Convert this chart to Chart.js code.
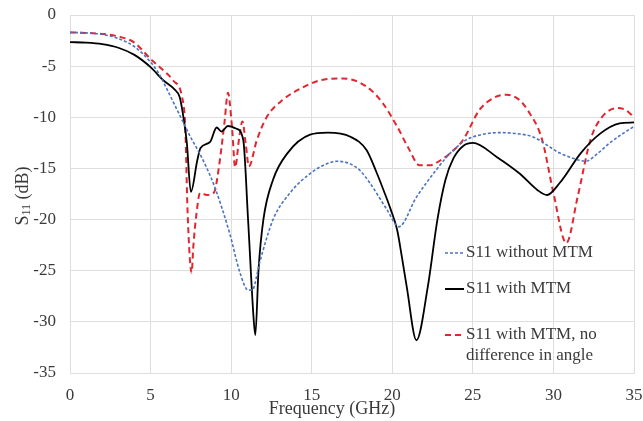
<!DOCTYPE html>
<html>
<head>
<meta charset="utf-8">
<script src="https://cdn.jsdelivr.net/npm/chart.js@4.4.1/dist/chart.umd.min.js"></script>
<style>
  html, body { margin: 0; padding: 0; background: #fff; }
  #wrap { width: 643px; height: 421px; position: relative; }
</style>
</head>
<body>
<div id="wrap"><canvas id="s11Chart"></canvas></div>
<script>
// S11 without MTM (blue dashed)
const blueFreq = [0, 1, 2, 3, 4, 5, 5.5, 6, 6.5, 7, 7.5, 8, 8.5, 9, 9.9, 10.55, 11.05, 11.3, 11.8, 12.6, 13.65, 14.9, 16, 16.6, 17.3, 18, 18.6, 19.7, 20.4, 21.5, 22.8, 23.6, 24.6, 25.5, 26.7, 27.7, 28.7, 30.4, 31.2, 32, 32.7, 33.5, 34.3, 35];
const blueS11 = [-1.7, -1.75, -1.9, -2.3, -3.1, -4.6, -5.7, -7.2, -8.8, -10.4, -12, -13.4, -15, -16.9, -21.3, -25.2, -26.9, -26.9, -24, -20, -17.4, -15.5, -14.5, -14.3, -14.5, -15.2, -16.4, -19.1, -20.7, -17.8, -15.0, -13.5, -12.2, -11.7, -11.5, -11.6, -11.9, -13.5, -14.0, -14.3, -13.6, -12.5, -11.6, -10.9];

// S11 with MTM (black solid)
const blackFreq = [0, 1, 2, 3, 4, 5, 5.8, 6.5, 6.8, 7.0, 7.25, 7.5, 7.9, 8.1, 8.7, 9.1, 9.4, 9.8, 10.3, 10.75, 11.05, 11.4, 11.5, 11.7, 12.0, 12.6, 13.5, 14.9, 16, 17.4, 18.4, 19.0, 19.5, 19.9, 20.3, 20.6, 20.9, 21.5, 22.2, 22.8, 23.3, 23.8, 24.4, 25, 26.5, 27.9, 29, 29.6, 30.4, 31.7, 32.9, 34.1, 35];
const blackS11 = [-2.65, -2.7, -2.85, -3.2, -3.9, -5.1, -6.4, -7.3, -8.0, -9.6, -12.5, -17.3, -14.2, -13.0, -12.4, -11.0, -11.4, -10.85, -11.1, -12.2, -20, -29.8, -31.3, -24.9, -20, -16.1, -13.5, -11.7, -11.5, -11.9, -13.2, -15.3, -17.3, -19.0, -21.0, -23.7, -26.6, -31.8, -26.6, -20, -16.1, -14.0, -12.8, -12.5, -13.9, -15.5, -17.1, -17.6, -16.4, -13.5, -11.6, -10.6, -10.5];

// S11 with MTM, no difference in angle (red dashed)
const redFreq = [0, 1, 2, 3, 4, 5, 5.5, 6, 6.4, 6.95, 7.15, 7.3, 7.55, 7.65, 7.85, 8.07, 8.5, 8.8, 9.0, 9.3, 9.6, 9.8, 10.05, 10.25, 10.5, 10.7, 10.9, 11.1, 11.6, 12.2, 13.2, 14.3, 15.5, 16.9, 18.4, 19.4, 20.3, 21.0, 21.7, 22.3, 23.0, 23.6, 24.4, 25.4, 26.3, 27.1, 27.8, 28.4, 29.3, 30, 30.8, 31.5, 32.3, 33, 34, 34.5, 35];
const redS11 = [-1.7, -1.75, -1.85, -2.1, -2.7, -4.3, -5.0, -5.7, -6.4, -8.0, -10.9, -19.4, -25.2, -22.7, -19.4, -17.4, -17.6, -17.5, -17.1, -14.2, -10.3, -7.6, -10.9, -14.9, -12, -10.4, -12.5, -14.8, -12.2, -10, -8.3, -7.2, -6.4, -6.2, -7.0, -8.6, -10.9, -13.0, -14.7, -14.7, -14.2, -13.5, -12.2, -9.3, -8.1, -7.8, -8.2, -9.3, -12.2, -17.4, -22.3, -17.8, -12.2, -10, -9.1, -9.3, -10];

const xTicks = [0, 5, 10, 15, 20, 25, 30, 35];
const yTicks = [0, -5, -10, -15, -20, -25, -30, -35];

const legendLabels = [['S11 without MTM'], ['S11 with MTM'], ['S11 with MTM, no', 'difference in angle']];

const BLUE = '#4a74bf';
const RED = '#e0262f';
const GRID = '#dedede';
const TEXT = '#3a3a3a';
const SERIF = '"Liberation Serif", "Times New Roman", serif';

function toPoints(xs, ys) {
    return xs.map((x, i) => ({ x: x, y: ys[i] }));
}

// axis titles + in-plot legend, drawn by hand
const decorations = {
    id: 'decorations',
    afterDraw(chart) {
        const ctx = chart.ctx;
        ctx.save();
        ctx.fillStyle = TEXT;

        // x title
        ctx.font = '18px ' + SERIF;
        ctx.textAlign = 'center';
        ctx.textBaseline = 'middle';
        ctx.fillText('Frequency (GHz)', 332, 409);

        // y title with subscript
        ctx.translate(22, 196);
        ctx.rotate(-Math.PI / 2);
        ctx.textAlign = 'left';
        ctx.textBaseline = 'alphabetic';
        const bigFont = '18px ' + SERIF;
        const smallFont = '12px ' + SERIF;
        ctx.font = bigFont;
        const wS = ctx.measureText('S').width;
        const wRest = ctx.measureText(' (dB)').width;
        ctx.font = smallFont;
        const wSub = ctx.measureText('11').width;
        const x0 = -(wS + wSub + wRest) / 2;
        ctx.font = bigFont;
        ctx.fillText('S', x0, 6);
        ctx.font = smallFont;
        ctx.fillText('11', x0 + wS, 8);
        ctx.font = bigFont;
        ctx.fillText(' (dB)', x0 + wS + wSub, 6);
        ctx.setTransform(1, 0, 0, 1, 0, 0);

        // legend
        const items = [
            { color: BLUE, dash: [3, 2], width: 1.5, y: 253 },
            { color: '#000', dash: [], width: 2, y: 289 },
            { color: RED, dash: [6, 4], width: 2, y: 335 }
        ];
        ctx.font = '17px ' + SERIF;
        ctx.textAlign = 'left';
        ctx.textBaseline = 'middle';
        items.forEach((it, i) => {
            ctx.beginPath();
            ctx.strokeStyle = it.color;
            ctx.lineWidth = it.width;
            ctx.setLineDash(it.dash);
            ctx.moveTo(445, it.y);
            ctx.lineTo(464, it.y);
            ctx.stroke();
            ctx.setLineDash([]);
            ctx.fillStyle = TEXT;
            legendLabels[i].forEach((line, j) => {
                ctx.fillText(line, 466, it.y + j * 21);
            });
        });
        ctx.restore();
    }
};

new Chart(document.getElementById('s11Chart'), {
    type: 'line',
    data: {
        datasets: [
            {
                label: legendLabels[0][0],
                data: toPoints(blueFreq, blueS11),
                borderColor: BLUE,
                borderWidth: 1.6,
                borderDash: [3, 2],
                pointRadius: 0,
                cubicInterpolationMode: 'monotone',
                fill: false
            },
            {
                label: legendLabels[1][0],
                data: toPoints(blackFreq, blackS11),
                borderColor: '#000',
                borderWidth: 1.8,
                pointRadius: 0,
                cubicInterpolationMode: 'monotone',
                fill: false
            },
            {
                label: legendLabels[2].join(' '),
                data: toPoints(redFreq, redS11),
                borderColor: RED,
                borderWidth: 2,
                borderDash: [6, 4],
                pointRadius: 0,
                cubicInterpolationMode: 'monotone',
                fill: false
            }
        ]
    },
    options: {
        responsive: true,
        maintainAspectRatio: false,
        animation: false,
        layout: { padding: { top: 15, right: 9, left: 0, bottom: 0 } },
        plugins: {
            legend: { display: false },
            tooltip: { enabled: false },
            title: { display: false }
        },
        scales: {
            x: {
                type: 'linear',
                min: 0,
                max: 35,
                afterBuildTicks: (s) => { s.ticks = xTicks.map(v => ({ value: v })); },
                afterFit: (s) => {
                    s.height = 48;
                    s.paddingLeft = 0;
                    s.paddingRight = 0;
                },
                grid: { color: GRID, lineWidth: 1, drawTicks: false },
                border: { color: GRID },
                ticks: {
                    color: TEXT,
                    font: { family: SERIF, size: 17 },
                    padding: 12,
                    maxRotation: 0
                }
            },
            y: {
                min: -35,
                max: 0,
                afterBuildTicks: (s) => { s.ticks = yTicks.map(v => ({ value: v })); },
                afterFit: (s) => {
                    s.width = 70;
                    s.paddingTop = 0;
                    s.paddingBottom = 0;
                },
                grid: { color: GRID, lineWidth: 1, drawTicks: false },
                border: { color: GRID },
                ticks: {
                    color: TEXT,
                    font: { family: SERIF, size: 17 },
                    padding: 14
                }
            }
        }
    },
    plugins: [decorations]
});
</script>
</body>
</html>
